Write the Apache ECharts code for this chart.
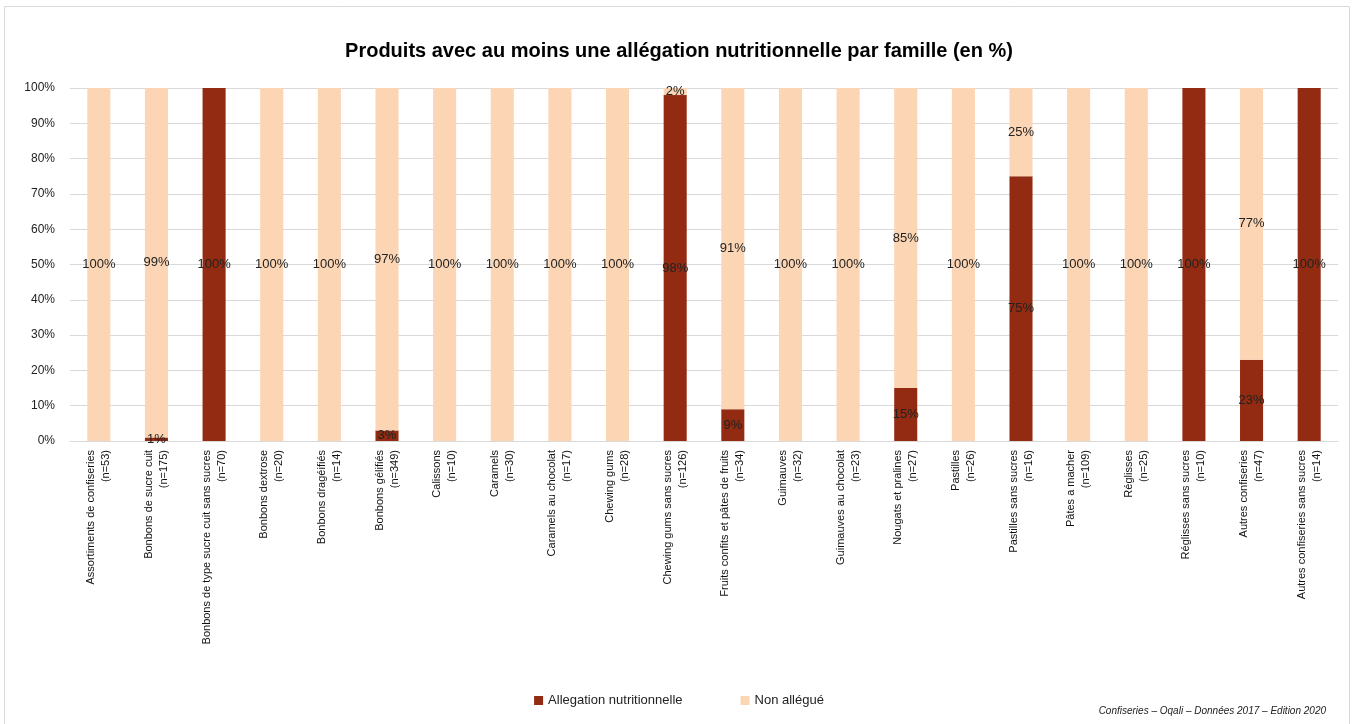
<!DOCTYPE html>
<html>
<head>
<meta charset="utf-8">
<script src="https://cdn.jsdelivr.net/npm/echarts@6/dist/echarts.min.js"></script>
<style>
  html, body { margin: 0; padding: 0; background: #fff; }
  #chart { width: 1358px; height: 724px; }
</style>
</head>
<body>
<div id="chart"></div>
<script>
// familles et effectifs
var categories = [
  'Assortiments de confiseries\n(n=53)',
  'Bonbons de sucre cuit\n(n=175)',
  'Bonbons de type sucre cuit sans sucres\n(n=70)',
  'Bonbons dextrose\n(n=20)',
  'Bonbons dragéifiés\n(n=14)',
  'Bonbons gélifiés\n(n=349)',
  'Calissons\n(n=10)',
  'Caramels\n(n=30)',
  'Caramels au chocolat\n(n=17)',
  'Chewing gums\n(n=28)',
  'Chewing gums sans sucres\n(n=126)',
  'Fruits confits et pâtes de fruits\n(n=34)',
  'Guimauves\n(n=32)',
  'Guimauves au chocolat\n(n=23)',
  'Nougats et pralines\n(n=27)',
  'Pastilles\n(n=26)',
  'Pastilles sans sucres\n(n=16)',
  'Pâtes a macher\n(n=109)',
  'Réglisses\n(n=25)',
  'Réglisses sans sucres\n(n=10)',
  'Autres confiseries\n(n=47)',
  'Autres confiseries sans sucres\n(n=14)'
];
var allegation = [0, 1, 100, 0, 0, 3, 0, 0, 0, 0, 98, 9, 0, 0, 15, 0, 75, 0, 0, 100, 23, 100];
var nonAllegue = [100, 99, 0, 100, 100, 97, 100, 100, 100, 100, 2, 91, 100, 100, 85, 100, 25, 100, 100, 0, 77, 0];
var yTicks = [0, 10, 20, 30, 40, 50, 60, 70, 80, 90, 100];

var font = "'Liberation Sans', Arial, sans-serif";

var chart = echarts.init(document.getElementById('chart'));

function pctLabel(p) {
  return p.value ? p.value + '%' : '';
}

chart.setOption({
  animation: false,
  textStyle: { fontFamily: font },
  title: {
    text: 'Produits avec au moins une allégation nutritionnelle par famille (en %)',
    left: 'center',
    top: 36,
    textStyle: { fontSize: 20, fontWeight: 'bold', color: '#000', fontFamily: font }
  },
  legend: {
    bottom: 12,
    left: 'center',
    icon: 'rect',
    itemWidth: 9,
    itemHeight: 9,
    itemGap: 58,
    textStyle: { fontSize: 13, color: '#222' },
    data: ['Allegation nutritionnelle', 'Non allégué']
  },
  grid: { left: 70, right: 20, top: 88, bottom: 283 },
  xAxis: {
    type: 'category',
    data: categories,
    axisLine: { lineStyle: { color: '#d9d9d9' } },
    axisTick: { show: false },
    axisLabel: {
      interval: 0,
      rotate: 90,
      margin: 9,
      fontSize: 11,
      lineHeight: 15,
      color: '#111'
    }
  },
  yAxis: {
    type: 'value',
    min: yTicks[0],
    max: yTicks[yTicks.length - 1],
    interval: 10,
    axisLine: { show: false },
    axisTick: { show: false },
    splitLine: { lineStyle: { color: '#d9d9d9' } },
    axisLabel: { formatter: '{value}%', fontSize: 12, color: '#222', margin: 15 }
  },
  series: [
    {
      name: 'Allegation nutritionnelle',
      type: 'bar',
      stack: 'total',
      barWidth: '40%',
      itemStyle: { color: '#922b11' },
      label: { show: true, position: 'inside', formatter: pctLabel, fontSize: 13, color: '#222' },
      data: allegation
    },
    {
      name: 'Non allégué',
      type: 'bar',
      stack: 'total',
      barWidth: '40%',
      itemStyle: { color: '#fcd5b4' },
      label: { show: true, position: 'inside', formatter: pctLabel, fontSize: 13, color: '#222' },
      data: nonAllegue
    }
  ],
  graphic: [
    {
      type: 'rect',
      shape: { x: 4.5, y: 6.5, width: 1345, height: 730 },
      style: { fill: 'none', stroke: '#d9d9d9', lineWidth: 1 },
      silent: true
    },
    {
      type: 'text',
      right: 32,
      bottom: 8,
      style: {
        text: 'Confiseries – Oqali – Données 2017 – Edition 2020',
        font: 'italic 10px ' + font,
        fill: '#222'
      }
    }
  ]
});
</script>
</body>
</html>
